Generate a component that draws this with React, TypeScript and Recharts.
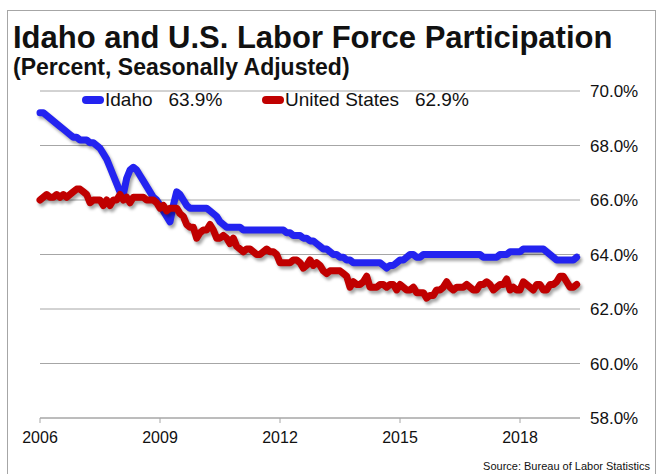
import { CartesianGrid, Legend, Line, LineChart, XAxis, YAxis } from "recharts";

const START_YEAR = 2006;
const YEAR_TICKS = ["2006", "2009", "2012", "2015", "2018"];
const Y_TICKS = [58, 60, 62, 64, 66, 68, 70];

// monthly, Jan 2006 - Jun 2019
const IDAHO = [
  69.2, 69.2, 69.1, 69.0, 68.9, 68.8, 68.7, 68.6, 68.5, 68.4, 68.3, 68.3,
  68.2, 68.2, 68.2, 68.1, 68.1, 68.0, 67.9, 67.7, 67.5, 67.2, 66.9, 66.6,
  66.3, 66.2, 66.8, 67.1, 67.2, 67.1, 66.9, 66.7, 66.5, 66.3, 66.1, 66.0,
  65.8, 65.6, 65.4, 65.2, 65.8, 66.3, 66.2, 66.0, 65.8, 65.7, 65.7, 65.7,
  65.7, 65.7, 65.7, 65.6, 65.5, 65.4, 65.2, 65.1, 65.0, 65.0, 65.0, 65.0,
  65.0, 64.9, 64.9, 64.9, 64.9, 64.9, 64.9, 64.9, 64.9, 64.9, 64.9, 64.9,
  64.9, 64.9, 64.8, 64.8, 64.7, 64.7, 64.7, 64.6, 64.6, 64.5, 64.5, 64.4,
  64.3, 64.2, 64.2, 64.1, 64.0, 64.0, 63.9, 63.9, 63.8, 63.8, 63.7, 63.7,
  63.7, 63.7, 63.7, 63.7, 63.7, 63.7, 63.7, 63.6, 63.5, 63.6, 63.6, 63.7,
  63.8, 63.8, 63.9, 64.0, 64.0, 63.9, 63.9, 64.0, 64.0, 64.0, 64.0, 64.0,
  64.0, 64.0, 64.0, 64.0, 64.0, 64.0, 64.0, 64.0, 64.0, 64.0, 64.0, 64.0,
  64.0, 63.9, 63.9, 63.9, 63.9, 63.9, 64.0, 64.0, 64.0, 64.1, 64.1, 64.1,
  64.1, 64.2, 64.2, 64.2, 64.2, 64.2, 64.2, 64.2, 64.1, 64.0, 63.9, 63.8,
  63.8, 63.8, 63.8, 63.8, 63.8, 63.9,
];

const US = [
  66.0, 66.1, 66.2, 66.1, 66.1, 66.2, 66.1, 66.2, 66.1, 66.2, 66.3, 66.4,
  66.4, 66.3, 66.2, 65.9, 66.0, 66.0, 66.0, 65.8, 66.0, 65.8, 66.0, 66.0,
  66.2, 66.0, 66.1, 65.9, 66.1, 66.1, 66.1, 66.1, 66.0, 66.0, 66.0, 65.9,
  65.7, 65.8, 65.6, 65.7, 65.7, 65.7, 65.5, 65.4, 65.1, 65.0, 65.0, 64.6,
  64.8, 64.9, 64.9, 65.1, 64.9, 64.6, 64.6, 64.7, 64.6, 64.4, 64.6, 64.3,
  64.2, 64.1, 64.2, 64.2, 64.1, 64.0, 64.0, 64.1, 64.2, 64.1, 64.1, 64.0,
  63.7, 63.7, 63.7, 63.7, 63.8, 63.8, 63.7, 63.5, 63.6, 63.8, 63.6, 63.7,
  63.6, 63.4, 63.3, 63.4, 63.4, 63.4, 63.4, 63.3, 63.2, 62.8, 63.0, 62.9,
  62.9, 63.0, 63.2, 62.8, 62.8, 62.8, 62.9, 62.9, 62.8, 62.9, 62.9, 62.7,
  62.9, 62.8, 62.7, 62.7, 62.8, 62.6, 62.6, 62.6, 62.4, 62.5, 62.5, 62.7,
  62.7, 62.8, 63.0, 62.8, 62.7, 62.8, 62.8, 62.8, 62.9, 62.8, 62.7, 62.7,
  62.9, 62.9, 63.0, 62.9, 62.7, 62.8, 62.9, 62.9, 63.1, 62.7, 62.8, 62.7,
  62.7, 63.0, 62.9, 62.8, 62.7, 62.9, 62.9, 62.7, 62.7, 62.9, 62.9, 63.0,
  63.2, 63.2, 63.0, 62.8, 62.8, 62.9,
];

const SERIES = [
  { key: "idaho", label: "Idaho", color: "#2323f0", values: IDAHO },
  { key: "us", label: "United States", color: "#c00000", values: US },
];

const data = IDAHO.map((v, i) => ({ m: i, idaho: v, us: US[i] }));
const xTicks = YEAR_TICKS.map((y) => (Number(y) - START_YEAR) * 12);

const FONT = "'Liberation Sans', Arial, sans-serif";
const shadow = "drop-shadow(2px 3px 1.5px rgba(0,0,0,0.35))";

function LegendRow() {
  return (
    <div style={{ position: "relative", height: 24, fontFamily: FONT, fontSize: 19, color: "#111" }}>
      {SERIES.map((s, i) => (
        <div
          key={s.key}
          style={{ position: "absolute", left: i === 0 ? 82 : 262, top: 0, display: "flex", alignItems: "center", whiteSpace: "pre" }}
        >
          <span style={{ width: 22, height: 8, borderRadius: 4, background: s.color, marginRight: 1 }} />
          {s.label}   {s.values[s.values.length - 1].toFixed(1)}%
        </div>
      ))}
    </div>
  );
}

export default function App() {
  return (
    <div style={{ position: "absolute", left: 0, top: 0, width: 660, height: 474, background: "#fff", overflow: "hidden" }}>
      <div style={{ position: "absolute", left: 7, top: 10, width: 647, height: 470, border: "1px solid #a6a6a6" }} />
      <svg width={660} height={80} style={{ position: "absolute", left: 0, top: 0 }}>
        <text x={13} y={48} fontFamily={FONT} fontWeight="bold" fontSize={31} fill="#111">
          Idaho and U.S. Labor Force Participation
        </text>
        <text x={13} y={75} fontFamily={FONT} fontWeight="bold" fontSize={23} fill="#111">
          (Percent, Seasonally Adjusted)
        </text>
      </svg>
      <LineChart width={660} height={474} data={data} margin={{ top: 91, right: 6, left: 40, bottom: 26 }}>
        <CartesianGrid horizontal vertical={false} stroke="#a6a6a6" />
        <XAxis
          dataKey="m"
          type="number"
          domain={[0, 162]}
          ticks={xTicks}
          tickFormatter={(t) => YEAR_TICKS[xTicks.indexOf(t)]}
          height={30}
          stroke="#a6a6a6"
          tickSize={5}
          tickMargin={9}
          tick={{ fontSize: 16, fill: "#111", fontFamily: FONT }}
        />
        <YAxis
          orientation="right"
          domain={[58, 70]}
          ticks={Y_TICKS}
          width={74}
          axisLine={false}
          tickLine={false}
          tickMargin={4}
          tickFormatter={(v) => v.toFixed(1) + "%"}
          tick={{ fontSize: 17, fill: "#111", fontFamily: FONT }}
        />
        <Legend
          verticalAlign="middle"
          align="center"
          layout="horizontal"
          content={() => <LegendRow />}
          wrapperStyle={{ top: 89, left: 0, width: 660 }}
        />
        {SERIES.map((s) => (
          <Line
            key={s.key}
            dataKey={s.key}
            stroke={s.color}
            strokeWidth={7}
            strokeLinecap="round"
            strokeLinejoin="round"
            dot={false}
            activeDot={false}
            isAnimationActive={false}
            style={{ filter: shadow }}
          />
        ))}
      </LineChart>
      <div style={{ position: "absolute", right: 10, top: 460, fontFamily: FONT, fontSize: 11, color: "#111" }}>
        Source: Bureau of Labor Statistics
      </div>
    </div>
  );
}
